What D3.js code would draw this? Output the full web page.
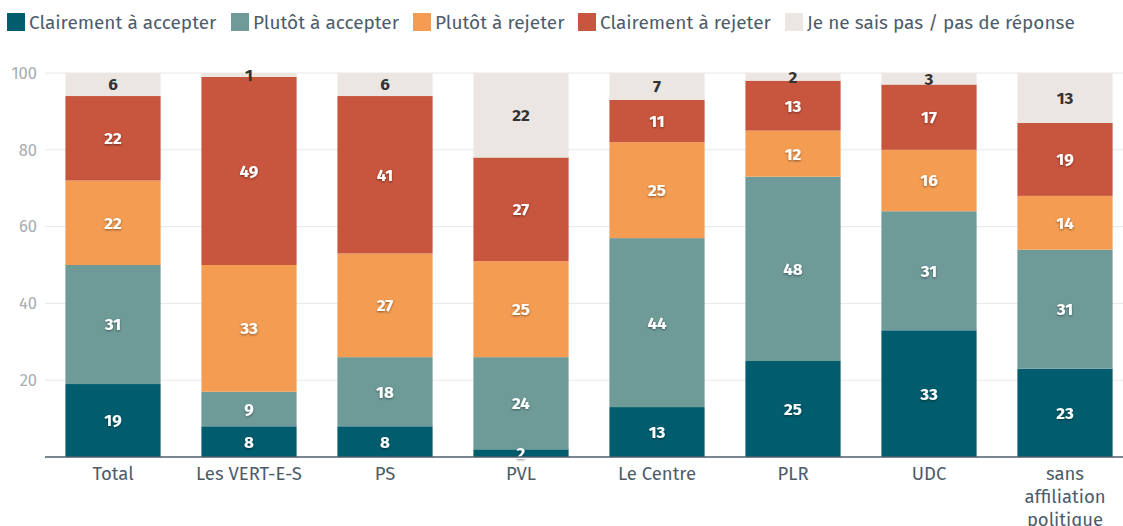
<!DOCTYPE html>
<html lang="fr">
<head>
<meta charset="UTF-8">
<title>Sondage</title>
<style>
    body { margin:0; background:#fff; }
    svg text { font-family: "Fira Sans", "Noto Sans", "Open Sans", sans-serif; }
    .ytick text { fill:#a8adb2; font-size:16.5px; }
    .xlab { fill:#4d5c6b; font-size:18.5px; }
    .leg { fill:#4d5c6b; font-size:19px; }
</style>
</head>
<body>
<script src="https://cdn.jsdelivr.net/npm/d3@7"></script>
<script>
    var categories = ["Total", "Les VERT-E-S", "PS", "PVL", "Le Centre", "PLR", "UDC", "sans affiliation politique"];
    var seriesNames = ["Clairement à accepter", "Plutôt à accepter", "Plutôt à rejeter", "Clairement à rejeter", "Je ne sais pas / pas de réponse"];
    var clairAccepter = [19, 8, 8, 2, 13, 25, 33, 23];
    var plutotAccepter = [31, 9, 18, 24, 44, 48, 31, 31];
    var plutotRejeter = [22, 33, 27, 25, 25, 12, 16, 14];
    var clairRejeter = [22, 49, 41, 27, 11, 13, 17, 19];
    var neSaisPas = [6, 1, 6, 22, 7, 2, 3, 13];
    var yTicks = [20, 40, 60, 80, 100];
    var colors = ["#015c6d", "#6e9a98", "#f39c52", "#c8553d", "#ebe6e2"];

    var w = 1123, h = 526;
    var plotLeft = 45, plotRight = 1133, plotTop = 73, plotBottom = 457;

    var keys = ["a", "b", "c", "d", "e"];
    var table = categories.map(function (c, i) {
        return {cat: c, a: clairAccepter[i], b: plutotAccepter[i], c: plutotRejeter[i], d: clairRejeter[i], e: neSaisPas[i]};
    });
    var stacked = d3.stack().keys(keys)(table);

    var x = d3.scaleBand().domain(categories).range([plotLeft, plotRight]).paddingInner(0.3).paddingOuter(0.15);
    var y = d3.scaleLinear().domain([0, 100]).range([plotBottom, plotTop]);

    var svg = d3.select("body").append("svg").attr("width", w).attr("height", h);

    // gridlines
    svg.append("g").selectAll("line").data(yTicks).enter().append("line")
        .attr("x1", plotLeft).attr("x2", w)
        .attr("y1", function (d) { return y(d); })
        .attr("y2", function (d) { return y(d); })
        .attr("stroke", "#e8e8e8");

    var yAxis = d3.axisLeft(y).tickValues(yTicks).tickSize(0).tickPadding(8);
    svg.append("g").attr("class", "ytick").attr("transform", "translate(" + plotLeft + ",0)").call(yAxis)
        .call(function (g) { g.select(".domain").remove(); });
    svg.selectAll(".ytick text").attr("font-family", null).attr("font-size", null);

    // bars
    var layers = svg.selectAll("g.layer").data(stacked).enter().append("g")
        .attr("class", "layer")
        .attr("fill", function (d, i) { return colors[i]; });

    layers.selectAll("rect").data(function (d) { return d; }).enter().append("rect")
        .attr("x", function (d) { return x(d.data.cat); })
        .attr("y", function (d) { return y(d[1]); })
        .attr("width", x.bandwidth())
        .attr("height", function (d) { return y(d[0]) - y(d[1]); });

    // value labels
    var defs = svg.append("defs");
    var f = defs.append("filter").attr("id", "sh").attr("x", "-20%").attr("y", "-20%").attr("width", "140%").attr("height", "140%");
    f.append("feDropShadow").attr("dx", 0).attr("dy", 1).attr("stdDeviation", 1).attr("flood-color", "#000").attr("flood-opacity", 0.45);

    stacked.forEach(function (s, si) {
        svg.append("g").selectAll("text").data(s).enter().append("text")
            .attr("x", function (d) { return x(d.data.cat) + x.bandwidth() / 2; })
            .attr("y", function (d) { return (y(d[0]) + y(d[1])) / 2; })
            .attr("dy", "0.35em")
            .attr("text-anchor", "middle")
            .attr("font-size", "17px")
            .attr("font-weight", "bold")
            .attr("fill", si == 4 ? "#333" : "#fff")
            .attr("filter", si == 4 ? null : "url(#sh)")
            .text(function (d) { return d[1] - d[0]; });
    });

    // x axis line
    svg.append("line").attr("x1", plotLeft).attr("x2", w).attr("y1", plotBottom).attr("y2", plotBottom)
        .attr("stroke", "#4d5c6b").attr("stroke-width", 1.5);

    // x labels (wrap long one)
    categories.forEach(function (c) {
        var lines = c == "sans affiliation politique" ? ["sans", "affiliation", "politique"] : [c];
        var t = svg.append("text").attr("class", "xlab").attr("text-anchor", "middle")
            .attr("x", x(c) + x.bandwidth() / 2).attr("y", 480);
        lines.forEach(function (l, i) {
            t.append("tspan").attr("x", x(c) + x.bandwidth() / 2).attr("dy", i == 0 ? 0 : 23).text(l);
        });
    });

    // legend
    var legX = [7, 231, 413, 578, 785];
    var leg = svg.append("g").selectAll("g").data(seriesNames).enter().append("g")
        .attr("transform", function (d, i) { return "translate(" + legX[i] + ",13)"; });
    leg.append("rect").attr("width", 18).attr("height", 18)
        .attr("fill", function (d, i) { return colors[i]; });
    leg.append("text").attr("class", "leg").attr("x", 22).attr("y", 15.5).text(function (d) { return d; });
</script>
</body>
</html>
